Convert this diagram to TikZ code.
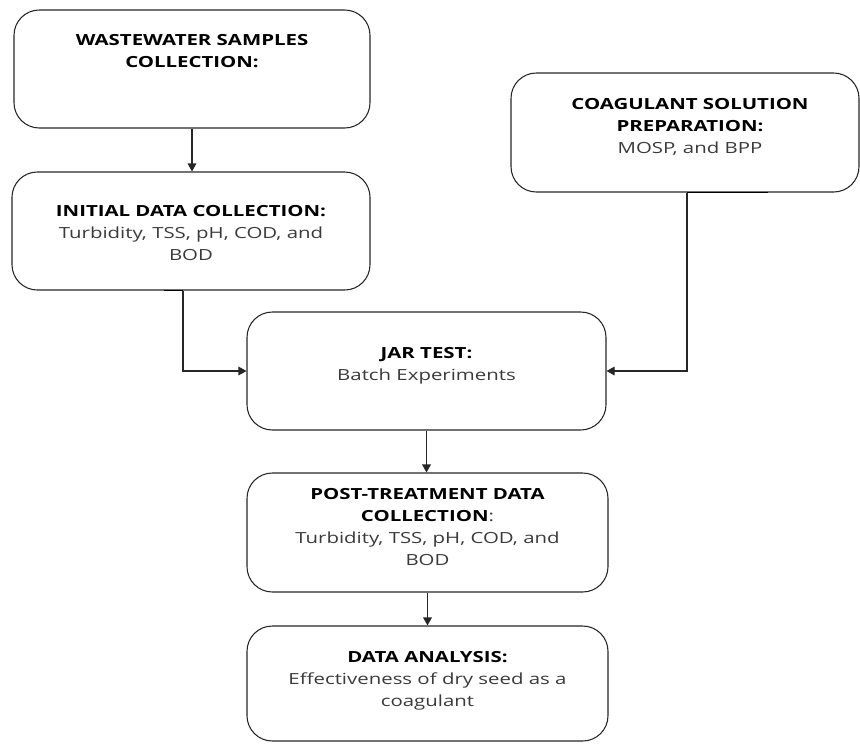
\documentclass[tikz,border=0pt]{standalone}
\usepackage{fontspec}
\setmainfont[FakeStretch=1.33]{Open Sans}
\usetikzlibrary{arrows.meta,calc}
\definecolor{bodygray}{HTML}{3A3A3A}
\begin{document}
\begin{tikzpicture}[x=0.75pt,y=-0.75pt,
  box/.style={draw=black!85, line width=0.8pt, rounded corners=19pt, inner sep=0pt},
  txt/.style={align=center, inner sep=0pt, anchor=north, font=\fontsize{11.5}{16.5}\selectfont, text=bodygray},
  arr/.style={draw=black!85, line width=0.8pt, -{Triangle[length=6pt,width=6.5pt]}},
  blob/.style={draw=black, line width=1.4pt}]
\useasboundingbox (0,0) rectangle (860,743);
\node[box, minimum width=356*0.75pt, minimum height=118*0.75pt] (b1) at (192,69) {};
\node[box, minimum width=358*0.75pt, minimum height=118*0.75pt] (b2) at (191,231) {};
\node[box, minimum width=348*0.75pt, minimum height=119*0.75pt] (b3) at (685,132.5) {};
\node[box, minimum width=359*0.75pt, minimum height=118*0.75pt] (b4) at (426.5,371) {};
\node[box, minimum width=361*0.75pt, minimum height=119*0.75pt] (b5) at (427.5,532.5) {};
\node[box, minimum width=361*0.75pt, minimum height=115*0.75pt] (b6) at (427.5,683.5) {};

\node[txt] (t1) at ($(b1.north)+(0,25)$) {\textbf{\color{black}WASTEWATER SAMPLES}\\\textbf{\color{black}COLLECTION:}};
\node[txt] (t2) at ($(b2.north)+(0,34)$) {\textbf{\color{black}INITIAL DATA COLLECTION:}\\Turbidity, TSS, pH, COD, and\\BOD};
\node[txt] (t3) at ($(b3.north)+(5,26)$) {\textbf{\color{black}COAGULANT SOLUTION}\\\textbf{\color{black}PREPARATION:}\\MOSP, and BPP};
\node[txt] (t4) at ($(b4.north)+(0,36)$) {\textbf{\color{black}JAR TEST:}\\Batch Experiments};
\node[txt] (t5) at ($(b5.north)+(0,16)$) {\textbf{\color{black}POST-TREATMENT DATA}\\\textbf{\color{black}COLLECTION}:\\Turbidity, TSS, pH, COD, and\\BOD};
\node[txt] (t6) at ($(b6.north)+(0,26)$) {\textbf{\color{black}DATA ANALYSIS:}\\Effectiveness of dry seed as a\\coagulant};

\draw[arr] (b1.south) -- (b1.south |- b2.north);
\draw[arr] ([xshift=-6pt]b2.south) |- (b4.west);
\draw[arr] ([xshift=1.5pt]b3.south) |- (b4.east);
\draw[arr] (b4.south) -- (b4.south |- b5.north);
\draw[arr] (b5.south) -- (b5.south |- b6.north);

\draw[blob] ([xshift=-20pt]b2.south) -- ([xshift=-6pt]b2.south);
\draw[blob] ([xshift=1.5pt]b3.south) -- ([xshift=62pt]b3.south);
\end{tikzpicture}
\end{document}
